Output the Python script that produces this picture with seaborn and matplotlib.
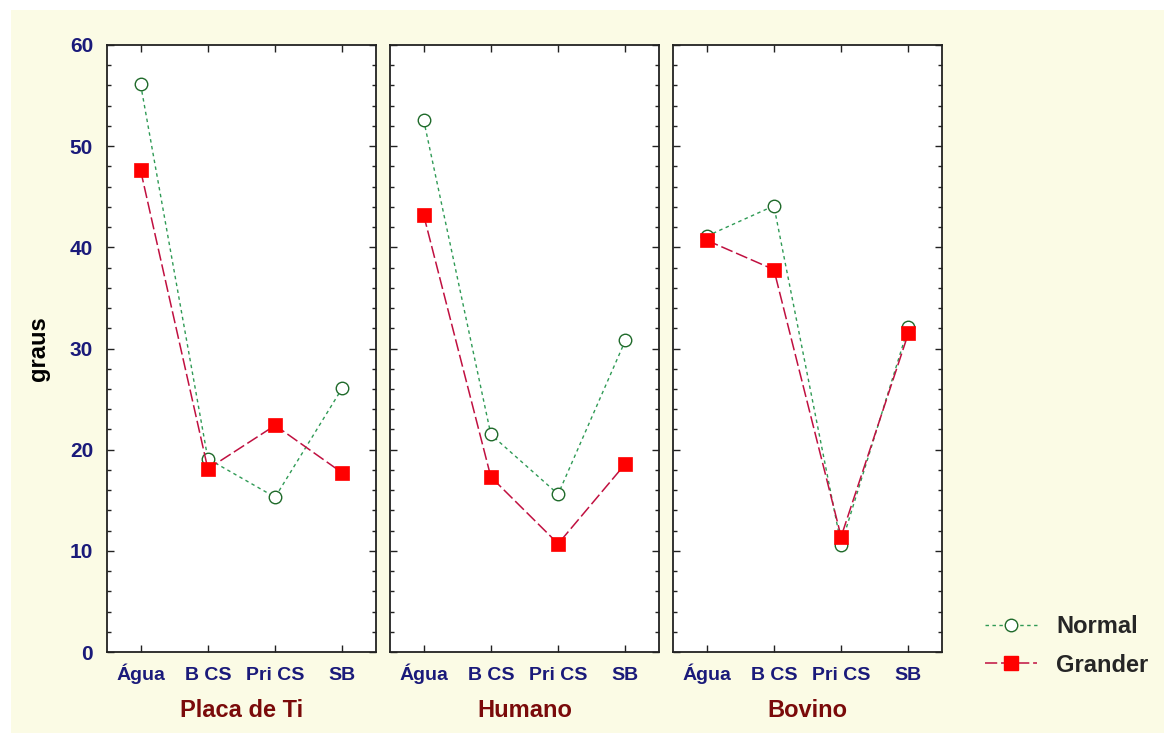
import matplotlib
matplotlib.use("Agg")
import matplotlib.pyplot as plt
from matplotlib.patches import Rectangle
from matplotlib.lines import Line2D
from matplotlib.ticker import MultipleLocator
import seaborn as sns
import pandas as pd

sns.set_theme(style="white")
plt.rcParams["font.family"] = ["Liberation Sans", "DejaVu Sans"]

# Data: contact angle (graus) per solution, for each substrate
categories = ["Água", "B CS", "Pri CS", "SB"]
substrates = ["Placa de Ti", "Humano", "Bovino"]
normal_ti = [56.1, 19.1, 15.3, 26.1]
grander_ti = [47.6, 18.1, 22.4, 17.7]
normal_hum = [52.6, 21.5, 15.6, 30.8]
grander_hum = [43.2, 17.3, 10.7, 18.6]
normal_bov = [41.1, 44.1, 10.6, 32.1]
grander_bov = [40.7, 37.8, 11.4, 31.5]
y_ticks = [0, 10, 20, 30, 40, 50, 60]

normal_sets = [normal_ti, normal_hum, normal_bov]
grander_sets = [grander_ti, grander_hum, grander_bov]

CREAM = "#fbfbe5"
NAVY = "#1a1a7a"
DARKRED = "#7a0a0a"
GREEN_LINE = "#2f9a55"
GREEN_EDGE = "#1f6a2a"
RED_LINE = "#c01040"
RED_FILL = "#ff0000"

fig = plt.figure(figsize=(11.64, 7.33), dpi=100, facecolor="white")
# cream backdrop with a thin white margin on top and left
fig.patches.append(Rectangle((11 / 1164, 0), 1 - 11 / 1164, 1 - 10 / 733,
                             transform=fig.transFigure, facecolor=CREAM,
                             edgecolor="none", zorder=-10))

lefts = [107, 390, 673]
ax_w = 269 / 1164
ax_b = (733 - 652) / 733
ax_h = 607 / 733

axes = []
for i, (sub, nv, gv) in enumerate(zip(substrates, normal_sets, grander_sets)):
    ax = fig.add_axes([lefts[i] / 1164, ax_b, ax_w, ax_h])
    ax.set_facecolor("white")
    df_n = pd.DataFrame({"cat": categories, "val": nv})
    df_g = pd.DataFrame({"cat": categories, "val": gv})
    sns.lineplot(data=df_n, x="cat", y="val", ax=ax, sort=False,
                 color=GREEN_LINE, lw=1.0, dashes=False, zorder=3,
                 marker="o", markersize=9, markerfacecolor="white",
                 markeredgecolor=GREEN_EDGE, markeredgewidth=1.0)
    ax.lines[-1].set_dashes((2.5, 2.5))
    sns.lineplot(data=df_g, x="cat", y="val", ax=ax, sort=False,
                 color=RED_LINE, lw=1.1, zorder=4,
                 marker="s", markersize=10, markerfacecolor=RED_FILL,
                 markeredgecolor=RED_FILL, markeredgewidth=0.5)
    ax.lines[-1].set_dashes((8, 2.5))

    ax.set_xlim(-0.5, 3.5)
    ax.set_ylim(0, 60)
    ax.set_xticks(range(len(categories)))
    ax.set_xticklabels(categories)
    ax.yaxis.set_major_locator(MultipleLocator(10))
    ax.yaxis.set_minor_locator(MultipleLocator(2))
    ax.tick_params(axis="both", which="both", direction="in",
                   top=True, bottom=True, left=True, right=True,
                   color="#222222", width=1.0)
    ax.tick_params(axis="both", which="major", length=5)
    ax.tick_params(axis="y", which="minor", length=3)
    ax.tick_params(axis="x", labelsize=14, labelcolor=NAVY, pad=20)
    ax.tick_params(axis="y", labelsize=15, labelcolor=NAVY, pad=10)
    for lab in ax.get_xticklabels():
        lab.set_fontweight("bold")
        lab.set_verticalalignment("baseline")
    for lab in ax.get_yticklabels():
        lab.set_fontweight("bold")
    if i > 0:
        ax.tick_params(axis="y", labelleft=False)
        ax.set_ylabel("")
    else:
        ax.set_yticks(y_ticks)
        ax.set_ylabel("graus", fontsize=17, fontweight="bold",
                      color="black", labelpad=14)
    ax.set_xlabel(sub, fontsize=17, fontweight="bold", color=DARKRED,
                  labelpad=11)
    for sp in ax.spines.values():
        sp.set_color("#222222")
        sp.set_linewidth(1.3)
    axes.append(ax)

handles = [
    Line2D([], [], color=GREEN_LINE, lw=1.0, dashes=(2.5, 2.5), marker="o",
           markersize=9, markerfacecolor="white", markeredgecolor=GREEN_EDGE),
    Line2D([], [], color=RED_LINE, lw=1.1, dashes=(8, 2.5), marker="s",
           markersize=10, markerfacecolor=RED_FILL, markeredgecolor=RED_FILL),
]
leg = fig.legend(handles, ["Normal", "Grander"], loc="center left",
                 bbox_to_anchor=(964 / 1164, 1 - 646 / 733), frameon=False,
                 prop={"size": 17, "weight": "bold"}, handlelength=2.2,
                 handletextpad=0.8, labelspacing=0.65)

fig.savefig("out.png", dpi=100, facecolor=fig.get_facecolor())
